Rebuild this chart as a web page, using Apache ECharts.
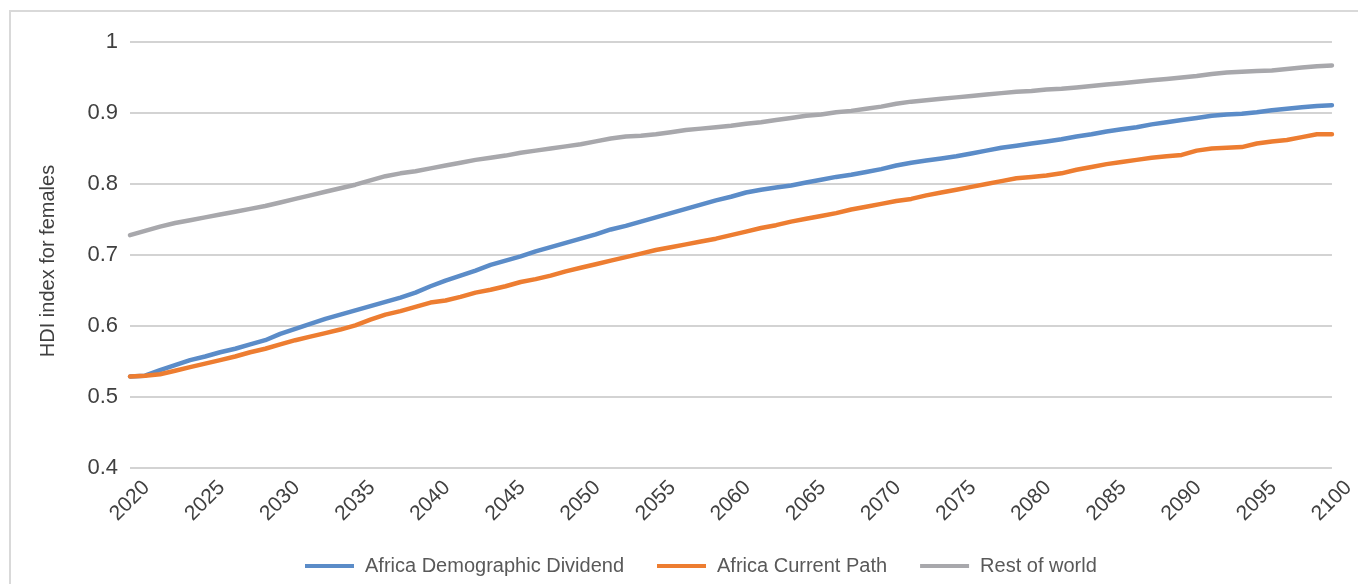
<!DOCTYPE html>
<html>
<head>
<meta charset="utf-8">
<script src="https://cdn.jsdelivr.net/npm/echarts@6/dist/echarts.min.js"></script>
<style>
  html, body { margin: 0; padding: 0; background: #ffffff; }
  #chart { width: 1358px; height: 584px; }
</style>
</head>
<body>
<div id="chart"></div>
<script>
var years = [];
for (var y = 2020; y <= 2100; y++) { years.push(String(y)); }

var africaDemographicDividend = [
  0.529, 0.530, 0.538, 0.545, 0.552, 0.557, 0.563, 0.568, 0.574, 0.580,
  0.589, 0.596, 0.603, 0.610, 0.616, 0.622, 0.628, 0.634, 0.640, 0.647,
  0.656, 0.664, 0.671, 0.678, 0.686, 0.692, 0.698, 0.705, 0.711, 0.717,
  0.723, 0.729, 0.736, 0.741, 0.747, 0.753, 0.759, 0.765, 0.771, 0.777,
  0.782, 0.788, 0.792, 0.795, 0.798, 0.802, 0.806, 0.810, 0.813, 0.817,
  0.821, 0.826, 0.830, 0.833, 0.836, 0.839, 0.843, 0.847, 0.851, 0.854,
  0.857, 0.860, 0.863, 0.867, 0.870, 0.874, 0.877, 0.880, 0.884, 0.887,
  0.890, 0.893, 0.896, 0.898, 0.899, 0.901, 0.904, 0.906, 0.908, 0.910,
  0.911
];

var africaCurrentPath = [
  0.529, 0.530, 0.532, 0.537, 0.542, 0.547, 0.552, 0.557, 0.563, 0.568,
  0.574, 0.580, 0.585, 0.590, 0.595, 0.601, 0.609, 0.616, 0.621, 0.627,
  0.633, 0.636, 0.641, 0.647, 0.651, 0.656, 0.662, 0.666, 0.671, 0.677,
  0.682, 0.687, 0.692, 0.697, 0.702, 0.707, 0.711, 0.715, 0.719, 0.723,
  0.728, 0.733, 0.738, 0.742, 0.747, 0.751, 0.755, 0.759, 0.764, 0.768,
  0.772, 0.776, 0.779, 0.784, 0.788, 0.792, 0.796, 0.800, 0.804, 0.808,
  0.810, 0.812, 0.815, 0.820, 0.824, 0.828, 0.831, 0.834, 0.837, 0.839,
  0.841, 0.847, 0.850, 0.851, 0.852, 0.857, 0.860, 0.862, 0.866, 0.870,
  0.870
];

var restOfWorld = [
  0.728, 0.734, 0.740, 0.745, 0.749, 0.753, 0.757, 0.761, 0.765, 0.769,
  0.774, 0.779, 0.784, 0.789, 0.794, 0.799, 0.805, 0.811, 0.815, 0.818,
  0.822, 0.826, 0.830, 0.834, 0.837, 0.840, 0.844, 0.847, 0.850, 0.853,
  0.856, 0.860, 0.864, 0.867, 0.868, 0.870, 0.873, 0.876, 0.878, 0.880,
  0.882, 0.885, 0.887, 0.890, 0.893, 0.896, 0.898, 0.901, 0.903, 0.906,
  0.909, 0.913, 0.916, 0.918, 0.920, 0.922, 0.924, 0.926, 0.928, 0.930,
  0.931, 0.933, 0.934, 0.936, 0.938, 0.940, 0.942, 0.944, 0.946, 0.948,
  0.950, 0.952, 0.955, 0.957, 0.958, 0.959, 0.960, 0.962, 0.964, 0.966,
  0.967
];

var seriesNames = ['Africa Demographic Dividend', 'Africa Current Path', 'Rest of world'];
var seriesColors = ['#5B8CC8', '#ED7D31', '#A8A8AC'];
var yAxisTitle = 'HDI index for females';

var FONT = '"Liberation Sans", Arial, Helvetica, sans-serif';

var chart = echarts.init(document.getElementById('chart'), null, { renderer: 'canvas' });

function makeSeries(name, data, color) {
  return {
    name: name,
    type: 'line',
    data: data,
    symbol: 'none',
    showSymbol: false,
    smooth: false,
    lineStyle: { width: 4.5, color: color, cap: 'round', join: 'round' },
    itemStyle: { color: color },
    emphasis: { disabled: true },
    animation: false
  };
}

chart.setOption({
  animation: false,
  backgroundColor: '#ffffff',
  graphic: [{
    type: 'rect',
    shape: { x: 10, y: 11, width: 1400, height: 620 },
    style: { fill: 'none', stroke: '#d9d9d9', lineWidth: 2 },
    silent: true,
    z: -10
  }],
  grid: { left: 130, right: 24, top: 42, bottom: 116, containLabel: false },
  legend: {
    left: 300,
    top: 551,
    itemWidth: 49,
    itemHeight: 4,
    itemGap: 33,
    icon: 'rect',
    textStyle: { fontFamily: FONT, fontSize: 20, color: '#595959', padding: [0, 0, 0, 6] },
    data: seriesNames
  },
  xAxis: {
    type: 'category',
    data: years,
    boundaryGap: false,
    axisLine: { show: false },
    axisTick: { show: false },
    axisLabel: {
      interval: 4,
      rotate: 45,
      align: 'center',
      verticalAlign: 'middle',
      margin: 33,
      fontFamily: FONT,
      fontSize: 21,
      color: '#404040'
    },
    splitLine: { show: false }
  },
  yAxis: {
    type: 'value',
    min: 0.4,
    max: 1,
    interval: 0.1,
    name: yAxisTitle,
    nameLocation: 'middle',
    nameRotate: 90,
    nameGap: 72,
    nameTextStyle: { fontFamily: FONT, fontSize: 20, color: '#404040', padding: [0, 12, 0, 0] },
    axisLine: { show: false },
    axisTick: { show: false },
    axisLabel: {
      margin: 12,
      fontFamily: FONT,
      fontSize: 22,
      color: '#404040',
      formatter: function (v) { return String(Math.round(v * 10) / 10); }
    },
    splitLine: { show: true, lineStyle: { color: '#c4c4c4', width: 1.5 } }
  },
  series: [
    makeSeries(seriesNames[0], africaDemographicDividend, seriesColors[0]),
    makeSeries(seriesNames[1], africaCurrentPath, seriesColors[1]),
    makeSeries(seriesNames[2], restOfWorld, seriesColors[2])
  ]
});
</script>
</body>
</html>
